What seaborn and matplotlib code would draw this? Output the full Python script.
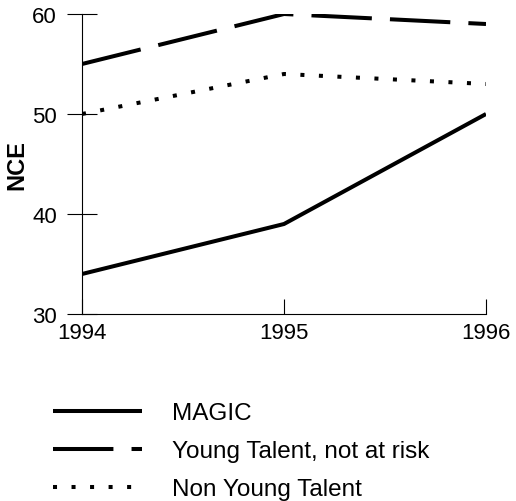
import pandas as pd
import matplotlib
matplotlib.use("Agg")
import matplotlib.pyplot as plt
import seaborn as sns

years = [1994, 1995, 1996]
magic = [34, 39, 50]
young_talent = [55, 60, 59]
non_young_talent = [50, 54, 53]
series_names = ["MAGIC", "Young Talent, not at risk", "Non Young Talent"]
y_ticks = [30, 40, 50, 60]

df = pd.concat([
    pd.DataFrame({"Year": years, "NCE": magic, "series": series_names[0]}),
    pd.DataFrame({"Year": years, "NCE": young_talent, "series": series_names[1]}),
    pd.DataFrame({"Year": years, "NCE": non_young_talent, "series": series_names[2]}),
])

sns.set_style("white")
plt.rcParams["font.family"] = ["Liberation Sans", "DejaVu Sans"]
plt.rcParams.update({"text.color": "black", "axes.labelcolor": "black",
                     "xtick.color": "black", "ytick.color": "black"})

lw = 2.9
dashes = {series_names[0]: "", series_names[1]: (15, 4.5), series_names[2]: (1, 3.6)}

fig = plt.figure(figsize=(5.16, 5.02), dpi=100)
ax = fig.add_axes([82 / 516, 1 - 315 / 502, 404 / 516, 300 / 502])

sns.lineplot(data=df, x="Year", y="NCE", style="series", style_order=series_names,
             dashes=dashes, color="black", linewidth=lw, ax=ax, legend=True)
for line in ax.lines:
    line.set_dash_capstyle("butt")
    line.set_solid_capstyle("butt")

ax.set_xlim(1994, 1996)
ax.set_ylim(30, 60)
ax.set_xticks(years)
ax.set_xticklabels([str(y) for y in years])
ax.set_yticks(y_ticks)
ax.set_xlabel("")
ax.set_ylabel("NCE", fontsize=17, fontweight="bold", labelpad=3)
sns.despine(ax=ax)
for s in ["left", "bottom"]:
    ax.spines[s].set_linewidth(0.8)
    ax.spines[s].set_color("black")
ax.tick_params(axis="y", direction="inout", length=21, width=0.8, labelsize=16, pad=7.5, left=True, color="black")
ax.tick_params(axis="x", direction="in", length=11, width=0.8, labelsize=16, pad=5.5, bottom=True, color="black")

handles, labels = ax.get_legend_handles_labels()
ax.get_legend().remove()
for h in handles:
    h.set_linewidth(lw)
    h.set_color("black")
    h.set_dash_capstyle("butt")
    h.set_solid_capstyle("butt")
fig.legend(handles, labels, loc="upper left", bbox_to_anchor=(53 / 516, 1 - 403 / 502),
           frameon=False, fontsize=17.5, handlelength=3.66, handletextpad=1.23,
           labelspacing=0.66, borderpad=0, borderaxespad=0)

fig.savefig("out.png", dpi=100)
